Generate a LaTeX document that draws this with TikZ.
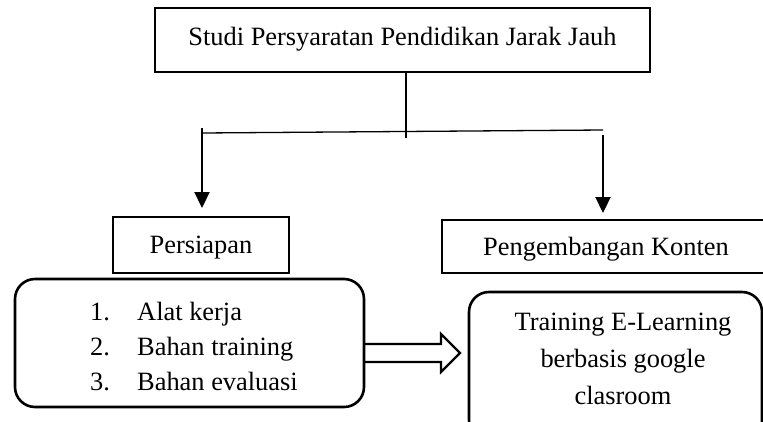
\documentclass[tikz,border=0pt]{standalone}
\usepackage{fontspec}
\setmainfont{Liberation Serif}
\usetikzlibrary{arrows.meta}
\begin{document}
\begin{tikzpicture}[x=1pt,y=-1pt,
  every node/.style={font=\fontsize{26.4}{36}\selectfont},
  sqbox/.style={draw,line width=2.6pt,rectangle,inner sep=0pt},
  rbox/.style={draw,line width=2.6pt,rounded corners=20pt},
  txt/.style={anchor=base,inner sep=0pt},
  thin/.style={line width=1.3pt},
  arr/.style={line width=2.2pt,-{Triangle[length=16pt,width=15pt]}}]
\useasboundingbox (0,0) rectangle (763,421);
\clip (0,0) rectangle (763,421);
% top box
\node[sqbox,minimum width=495pt,minimum height=64pt] (top) at (402.5,40) {};
\node[txt] (toptxt) at (402.5,45) {Studi Persyaratan Pendidikan Jarak Jauh};
% second level boxes
\node[sqbox,minimum width=176pt,minimum height=56pt] (pers) at (201,245) {};
\node[txt] (perstxt) at (201,253) {Persiapan};
\draw[line width=2.6pt] (790,220) -- (442,220) -- (442,273) -- (790,273);
\coordinate (peng) at (606,220);
\node[txt] (pengtxt) at (606,255) {Pengembangan Konten};
% rounded boxes
\draw[rbox] (15,279) rectangle (364,407);
\coordinate (leftbox) at (364,353);
\node[txt,anchor=base west] (n1) at (90,320) {1.};
\node[txt,anchor=base west] (t1) at (137,320) {Alat kerja};
\node[txt,anchor=base west] (n2) at (90,355) {2.};
\node[txt,anchor=base west] (t2) at (137,355) {Bahan training};
\node[txt,anchor=base west] (n3) at (90,390) {3.};
\node[txt,anchor=base west] (t3) at (137,390) {Bahan evaluasi};
\draw[rbox] (469,292) rectangle (762,440);
\coordinate (rightbox) at (469,353);
\node[txt] (r1) at (623,330) {Training E-Learning};
\node[txt] (r2) at (623,367) {berbasis google};
\node[txt] (r3) at (623,404) {clasroom};
% connectors
\coordinate (j) at (406,138);
\coordinate (hl) at (202,133);
\coordinate (hr) at (603,130);
\coordinate (al) at (202,128);
\coordinate (alt) at (202,208);
\coordinate (ar) at (603,135);
\coordinate (art) at (603,213);
\draw[thin] (top.south -| j) -- (j);
\draw[thin] (hl) -- (hr);
\draw[arr] (al) -- (alt);
\draw[arr] (ar) -- (art);
% block arrow
\draw[line width=2.2pt,line join=miter] (leftbox) ++(0,-9) -- (441,344) -- (441,334) -- (460,353) -- (441,372) -- (441,362) -- (364,362);
\end{tikzpicture}
\end{document}
